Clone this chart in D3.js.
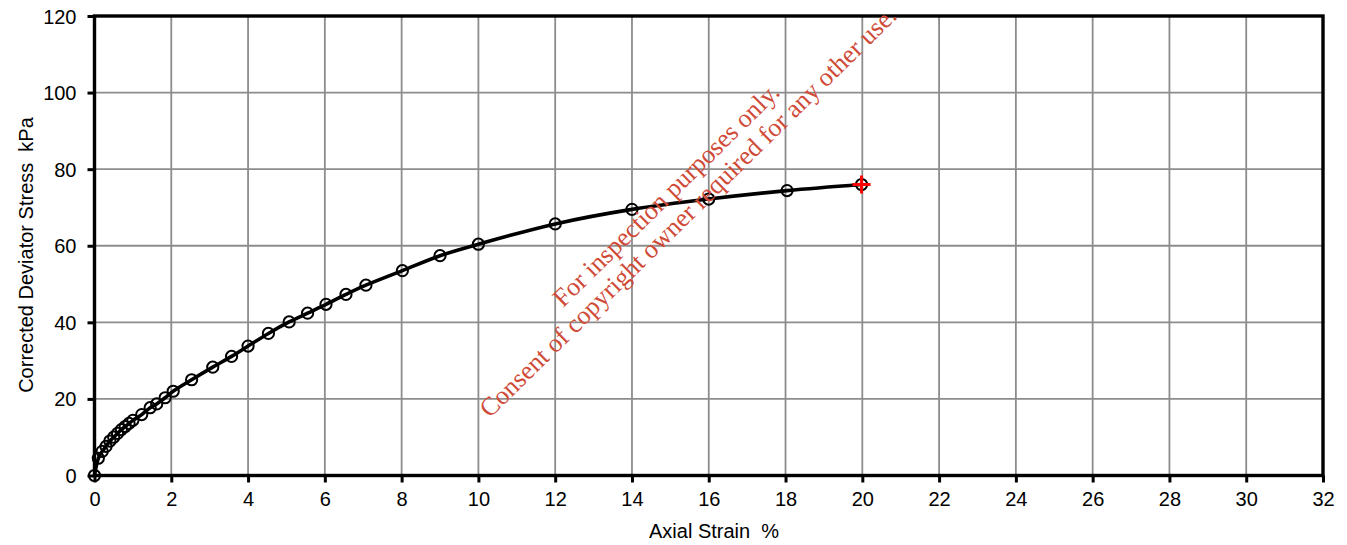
<!DOCTYPE html>
<html><head><meta charset="utf-8">
<script src="https://cdn.jsdelivr.net/npm/d3@7/dist/d3.min.js"></script>
<style>body{margin:0;background:#fff}svg{display:block}</style>
</head><body>
<svg id="c" width="1347" height="545"></svg>
<script>
const strain = [0,0.1,0.2,0.3,0.4,0.5,0.6,0.7,0.8,0.9,1.0,1.23,1.45,1.62,1.84,2.05,2.53,3.08,3.57,4.0,4.53,5.07,5.55,6.03,6.55,7.07,8.02,9.0,10.0,12.0,14.0,16.0,18.04,19.98];
const stress = [0,4.5,6.3,7.6,9.0,10.0,11.0,12.0,12.8,13.6,14.4,15.9,17.7,18.7,20.3,22.0,25.0,28.3,31.1,33.8,37.1,40.1,42.4,44.7,47.3,49.7,53.5,57.4,60.4,65.7,69.5,72.2,74.4,76.0];
const xTicks = d3.range(0,33,2);
const yTicks = [0,20,40,60,80,100,120];
const xTitle = "Axial Strain  %";
const yTitle = "Corrected Deviator Stress  kPa";
const watermark = ["For inspection purposes only.","Consent of copyright owner required for any other use."];

const L=94.5,R=1323,T=16,B=475.5;
const svg=d3.select("#c");
const x=d3.scaleLinear().domain([0,32]).range([L,R]);
const y=d3.scaleLinear().domain([0,120]).range([B,T]);
const font="'Liberation Sans', Arial, sans-serif";

// grid
svg.append("g").selectAll("line").data(xTicks.slice(1,-1)).join("line")
  .attr("x1",d=>x(d)).attr("x2",d=>x(d)).attr("y1",T).attr("y2",B)
  .attr("stroke","#8c8c8c").attr("stroke-width",1.8);
svg.append("g").selectAll("line").data(yTicks.slice(1,-1)).join("line")
  .attr("y1",d=>y(d)).attr("y2",d=>y(d)).attr("x1",L).attr("x2",R)
  .attr("stroke","#8c8c8c").attr("stroke-width",1.8);

// axes
const xAxis=d3.axisBottom(x).tickValues(xTicks).tickSize(7).tickPadding(9).tickFormat(d3.format("d"));
const yAxis=d3.axisLeft(y).tickValues(yTicks).tickSize(7).tickPadding(11).tickFormat(d3.format("d"));
const gx=svg.append("g").attr("transform",`translate(0,${B})`).call(xAxis);
const gy=svg.append("g").attr("transform",`translate(${L},0)`).call(yAxis);
[gx,gy].forEach(g=>{
  g.select(".domain").remove();
  g.selectAll(".tick line").attr("stroke","#000").attr("stroke-width",3);
  g.selectAll(".tick text").attr("font-family",font).attr("font-size",20).attr("fill","#000");
});
gy.selectAll(".tick text").attr("dy","0.35em");

// frame
svg.append("rect").attr("x",L).attr("y",T).attr("width",R-L).attr("height",B-T)
  .attr("fill","none").attr("stroke","#000").attr("stroke-width",3.4);

// titles
svg.append("text").attr("x",714).attr("y",538).attr("text-anchor","middle")
  .attr("font-family",font).attr("font-size",20).style("white-space","pre").text(xTitle);
svg.append("text").attr("transform","translate(33,255) rotate(-90)").attr("text-anchor","middle")
  .attr("font-family",font).attr("font-size",20).style("white-space","pre").text(yTitle);

// data
const pts=strain.map((s,i)=>[s,stress[i]]);
svg.append("path").datum(pts)
  .attr("d",d3.line().x(d=>x(d[0])).y(d=>y(d[1])).curve(d3.curveCatmullRom))
  .attr("fill","none").attr("stroke","#000").attr("stroke-width",3.6);
svg.append("g").selectAll("circle").data(pts).join("circle")
  .attr("cx",d=>x(d[0])).attr("cy",d=>y(d[1])).attr("r",5.6)
  .attr("fill","none").attr("stroke","#000").attr("stroke-width",2);
const last=pts[pts.length-1];
const lx=x(last[0]), ly=y(last[1]);
svg.append("path").attr("d",`M${lx-9},${ly}H${lx+9}M${lx},${ly-9}V${ly+9}`)
  .attr("stroke","#ff0000").attr("stroke-width",3).attr("fill","none");

// watermark
const wm=svg.append("g").attr("font-family","'Liberation Serif','Times New Roman',serif")
  .attr("font-size",26).attr("fill","#d04a38").attr("text-anchor","middle");
wm.append("text").attr("transform","translate(672,201) rotate(-44.5)").text(watermark[0]);
wm.append("text").attr("transform","translate(694,218) rotate(-44.5)").text(watermark[1]);
</script>
</body></html>
